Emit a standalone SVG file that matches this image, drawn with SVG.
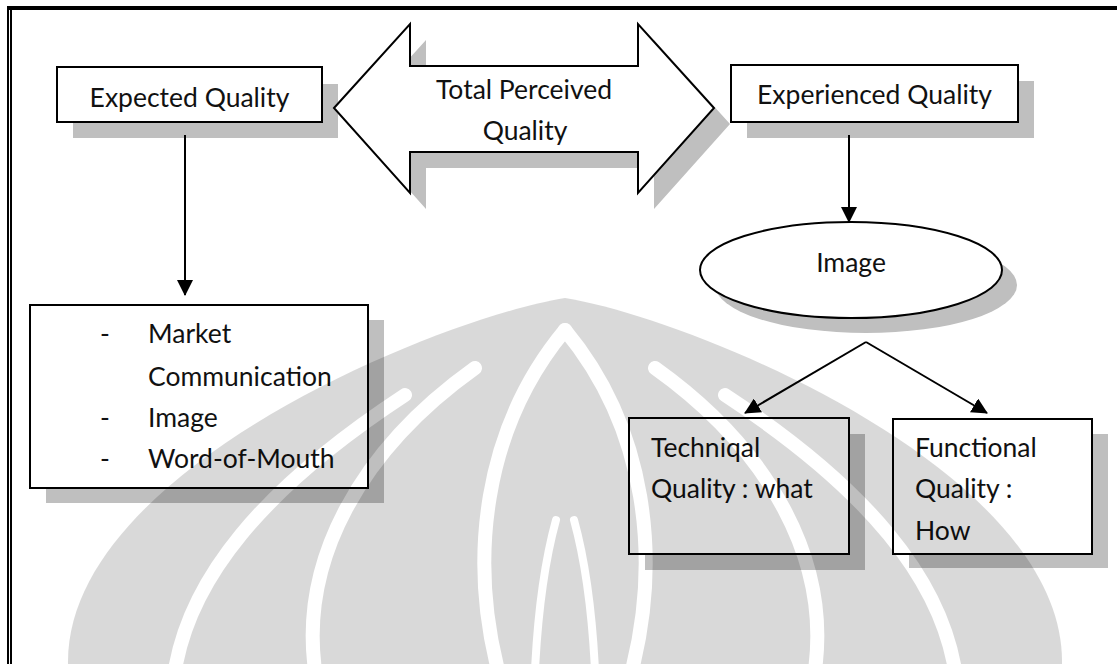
<svg xmlns="http://www.w3.org/2000/svg" width="1117" height="664" viewBox="0 0 1117 664">
  <defs>
    <style>
      .box { fill: #ffffff; stroke: #000000; stroke-width: 2; }
      .shadow { fill: #bfbfbf; stroke: none; }
      .lbl { font-family: "Lato", "Liberation Sans", sans-serif; font-size: 26.5px; fill: #111111; }
      .mid { text-anchor: middle; }
      .wire { fill: none; stroke: #000000; stroke-width: 2; }
      .cut { fill: none; stroke: #000000; stroke-width: 14; stroke-linecap: round; }
    </style>
    <marker id="head" viewBox="0 0 16 16" refX="15" refY="8" markerWidth="16" markerHeight="16" markerUnits="userSpaceOnUse" orient="auto">
      <path d="M0,0 L16,8 L0,16 Z" fill="#000000"/>
    </marker>
    <!-- thin light lines separating the petals of the emblem -->
    <g id="cuts-half">
      <path class="cut" d="M175,670 C190,580 260,490 405,395"/>
      <path class="cut" d="M315,670 C300,560 360,450 475,368"/>
      <path class="cut" d="M565,330 C482,430 470,560 498,670"/>
      <path class="cut" d="M535,670 C538,610 545,560 556,520" style="stroke-width:8"/>
    </g>
    <mask id="emblem-mask" maskUnits="userSpaceOnUse" x="0" y="0" width="1117" height="664">
      <rect width="1117" height="664" fill="#000000"/>
      <path d="M565,298 C690,318 1065,470 1062,664 L68,664 C65,470 440,318 565,298 Z" fill="#ffffff"/>
      <use href="#cuts-half"/>
      <use href="#cuts-half" transform="translate(1130,0) scale(-1,1)"/>
    </mask>
  </defs>

  <rect width="1117" height="664" fill="#ffffff"/>

  <!-- page frame: heavy top rule, doubled left rule -->
  <g id="frame">
    <rect x="7" y="6" width="1110" height="4" fill="#000000"/>
    <rect x="7" y="6" width="2" height="658" fill="#000000"/>
    <rect x="10" y="10" width="2" height="654" fill="#000000"/>
  </g>

  <!-- nodes -->
  <g id="expected">
    <rect class="shadow" x="73" y="84" width="265" height="54"/>
    <rect class="box" x="57" y="67" width="265" height="55"/>
    <text class="lbl mid" x="189.5" y="107">Expected Quality</text>
  </g>

  <g id="total">
    <polygon class="shadow" points="350,124 426,40 426,82 654,82 654,40 730,124 654,209 654,168 426,168 426,209"/>
    <polygon class="box" points="334,108 410,24 410,66 638,66 638,24 714,108 638,193 638,152 410,152 410,193"/>
    <text class="lbl mid" x="524" y="99">Total Perceived</text>
    <text class="lbl mid" x="525" y="140">Quality</text>
  </g>

  <g id="experienced">
    <rect class="shadow" x="747" y="81" width="287" height="57"/>
    <rect class="box" x="731" y="65" width="287" height="57"/>
    <text class="lbl mid" x="874.5" y="104">Experienced Quality</text>
  </g>

  <g id="sources">
    <rect class="shadow" x="46" y="320" width="338" height="183"/>
    <rect class="box" x="30" y="305" width="338" height="183"/>
    <text class="lbl" x="100" y="343">-</text>
    <text class="lbl" x="148" y="343">Market</text>
    <text class="lbl" x="148" y="386">Communication</text>
    <text class="lbl" x="100" y="427">-</text>
    <text class="lbl" x="148" y="427">Image</text>
    <text class="lbl" x="100" y="468">-</text>
    <text class="lbl" x="148" y="468">Word-of-Mouth</text>
  </g>

  <g id="image">
    <ellipse class="shadow" cx="866" cy="285" rx="151" ry="48"/>
    <ellipse class="box" cx="851" cy="270" rx="151" ry="48"/>
    <text class="lbl mid" x="851" y="272">Image</text>
  </g>

  <g id="technical">
    <rect class="shadow" x="645" y="434" width="220" height="136"/>
    <rect class="box" x="629" y="418" width="220" height="136"/>
    <text class="lbl" x="651" y="457">Techniqal</text>
    <text class="lbl" x="651" y="498">Quality : what</text>
  </g>

  <g id="functional">
    <rect class="shadow" x="909" y="434" width="199" height="134"/>
    <rect class="box" x="893" y="419" width="199" height="135"/>
    <text class="lbl" x="915" y="457">Functional</text>
    <text class="lbl" x="915" y="498">Quality :</text>
    <text class="lbl" x="915" y="540">How</text>
  </g>

  <!-- connectors -->
  <g id="connectors">
    <line class="wire" x1="185" y1="135" x2="185" y2="295" marker-end="url(#head)"/>
    <line class="wire" x1="849" y1="135" x2="849" y2="222" marker-end="url(#head)"/>
    <line class="wire" x1="866" y1="342" x2="745" y2="413" marker-end="url(#head)"/>
    <line class="wire" x1="866" y1="342" x2="987" y2="413" marker-end="url(#head)"/>
  </g>

  <!-- faint emblem printed across the lower half of the page -->
  <rect id="emblem" width="1117" height="664" fill="#000000" fill-opacity="0.15" mask="url(#emblem-mask)"/>
</svg>
